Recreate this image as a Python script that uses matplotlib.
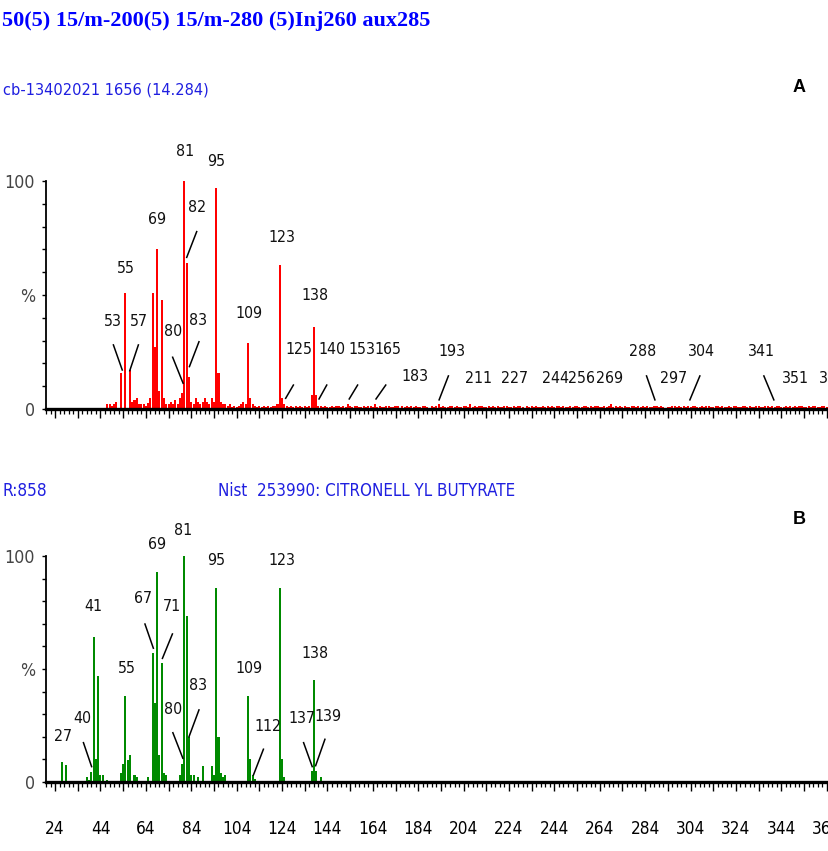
import os
import matplotlib
matplotlib.use("Agg")
import matplotlib.pyplot as plt
from matplotlib import font_manager
from matplotlib.ticker import MultipleLocator, FuncFormatter


def pick_file(prefs):
    files = [f.fname for f in font_manager.fontManager.ttflist]
    for p in prefs:
        for f in files:
            if p.lower() in os.path.basename(f).lower():
                return f
    return None


NARROW_FILE = pick_file(["LiberationSansNarrow-Regular", "NotoSans-ExtraCondensed.", "NotoSans-Condensed.",
                         "DejaVuSansCondensed.", "RobotoCondensed-Regular", "Roboto_Condensed-Regular",
                         "OpenSans-CondensedRegular", "OpenSans_Condensed-Regular", "NotoSans-SemiCondensed."])
SERIF_FILE = pick_file(["NotoSerif-ExtraCondensedBold.", "NotoSerif-CondensedBold.", "LiberationSerif-Bold."])


def narrow(size):
    if NARROW_FILE:
        return font_manager.FontProperties(fname=NARROW_FILE, size=size)
    return font_manager.FontProperties(family="DejaVu Sans", size=size)


def serif_bold(size):
    if SERIF_FILE:
        return font_manager.FontProperties(fname=SERIF_FILE, size=size)
    return font_manager.FontProperties(family="DejaVu Serif", weight="bold", size=size)


# ---- panel A: sample spectrum (red) ----
mz_a = [47, 48, 49, 50, 51, 53, 55, 57, 58, 59, 60, 61, 62, 63, 64, 65, 66, 67, 68, 69,
        70, 71, 72, 73, 74, 75, 76, 77, 78, 79, 80, 81, 82, 83, 84, 85, 86, 87, 88, 89,
        90, 91, 92, 93, 94, 95, 96, 97, 98, 99, 100, 101, 102, 103, 104, 105, 106, 107, 108, 109,
        110, 111, 112, 113, 114, 115, 116, 117, 118, 119, 120, 121, 122, 123, 124, 125, 126, 127, 128, 129,
        130, 131, 132, 133, 134, 135, 136, 137, 138, 139, 140]
int_a = [2, 2, 1.5, 2, 3, 16, 51, 17, 3, 4, 5, 2, 2, 2, 1.5, 2.5, 5, 51, 27, 70,
         8, 48, 5, 2, 2, 3, 2, 4, 2, 5, 7, 100, 64, 14, 3, 2, 5, 3, 2, 3,
         5, 3, 2, 5, 3, 97, 16, 3, 2, 2, 1.5, 2, 1, 1.5, 1, 1.5, 2, 3, 2, 29,
         5, 2, 1.5, 1, 1.5, 1, 1.5, 1, 1.5, 1, 1.5, 1.5, 2, 63, 5, 2, 1.5, 1, 1.5, 1,
         1.5, 1, 1.5, 1, 1.5, 1, 1.5, 6, 36, 6, 1.5]

# baseline noise of panel A, m/z 141..364
noise_a = [1.5, 1.0, 1.5, 1.0, 0.8, 1.5, 1.0, 1.5, 1.2, 1.0, 1.5, 1.0, 2.0, 1.5, 1.0, 1.2, 1.5, 1.0, 0.8, 1.5,
           1.0, 1.5, 1.2, 1.0, 2.0, 1.0, 1.5, 1.0, 0.8, 1.2, 1.5, 1.0, 1.0, 1.5, 1.2, 0.0, 1.5, 1.0, 1.5, 1.0,
           1.2, 1.0, 1.5, 0.8, 1.0, 1.5, 1.2, 1.0, 0.0, 1.5, 1.0, 1.2, 2.0, 1.0, 1.5, 1.0, 0.8, 1.5, 1.2, 1.0,
           1.5, 1.0, 0.8, 1.2, 1.5, 1.0, 2.0, 1.0, 1.5, 1.0, 1.2, 1.5, 0.8, 1.0, 1.5, 1.0, 1.2, 1.0, 1.5, 1.0,
           1.0, 1.5, 1.2, 0.8, 1.0, 1.5, 1.0, 1.2, 1.5, 1.0, 0.0, 1.5, 1.0, 1.2, 1.0, 1.5, 1.0, 0.8, 1.5, 1.0,
           1.2, 1.0, 1.5, 1.0, 1.5, 1.2, 1.0, 1.5, 1.0, 0.8, 1.5, 1.0, 1.2, 1.5, 1.0, 1.0, 1.5, 1.2, 1.0, 1.5,
           1.0, 1.5, 1.2, 1.0, 0.8, 1.5, 1.0, 1.2, 2.0, 1.0, 1.5, 1.0, 1.2, 0.8, 1.5, 1.0, 1.0, 1.5, 1.2, 1.0,
           1.5, 1.0, 1.2, 1.0, 1.5, 1.0, 0.8, 1.5, 1.2, 1.0, 1.5, 1.0, 0.0, 0.8, 1.0, 1.5, 1.2, 1.0, 1.5, 1.0,
           1.2, 1.0, 1.5, 1.0, 1.5, 1.2, 1.0, 0.8, 1.5, 1.0, 1.2, 1.5, 1.0, 1.0, 1.5, 1.2, 1.0, 1.5, 1.0, 0.8,
           1.5, 1.0, 1.2, 1.5, 1.0, 1.0, 1.5, 1.2, 1.0, 1.5, 1.0, 0.8, 1.2, 1.5, 1.0, 1.0, 1.5, 1.2, 1.0, 1.5,
           1.0, 1.2, 1.5, 1.0, 0.8, 1.5, 1.0, 1.2, 1.0, 1.5, 1.0, 1.2, 1.5, 1.0, 0.8, 1.5, 1.0, 1.2, 1.5, 1.0,
           1.0, 1.5, 1.2, 1.0]
noise_start = 141

# ---- panel B: NIST library spectrum (green) ----
mz_b = [27, 29, 38, 39, 40, 41, 42, 43, 44, 45, 47, 53, 54, 55, 56, 57, 59, 60, 65, 67,
        68, 69, 70, 71, 72, 73, 79, 80, 81, 82, 83, 84, 85, 87, 89, 93, 94, 95, 96, 97,
        98, 99, 109, 110, 111, 112, 123, 124, 125, 137, 138, 139, 141]
int_b = [9, 7.4, 2, 1, 4.4, 64, 10, 47, 3, 3, 1, 4, 8, 38, 9.6, 12, 3, 2, 2, 57,
         35, 93, 12, 52.5, 4, 3, 3, 8, 100, 73.5, 20, 3, 3, 2, 7, 7, 3, 86, 20, 4,
         2, 3, 38, 10, 3, 1.5, 86, 10, 2, 5, 45, 5, 2]

# peak labels: text, label x, label y, leader line (x0, y0, x1, y1) or None
labels_a = [
    ("81", 81.3, 112.9, None), ("95", 95.2, 108.5, None), ("69", 69.1, 82.9, None),
    ("82", 86.4, 88.2, (86.4, 77.8, 82.0, 66.5)), ("55", 55.3, 61.8, None),
    ("123", 123.9, 75.0, None), ("138", 138.5, 50.0, None), ("109", 109.6, 42.1, None),
    ("53", 49.4, 38.3, (49.7, 28.1, 53.6, 17.1)), ("57", 61.1, 38.3, (60.7, 28.1, 56.9, 16.8)),
    ("80", 76.1, 33.9, (75.8, 22.7, 80.4, 11.3)), ("83", 87.1, 39.0, (87.4, 29.5, 83.2, 18.6)),
    ("125", 131.5, 25.9, (129.0, 10.5, 125.6, 4.7)), ("140", 145.9, 25.9, (143.7, 10.5, 140.3, 4.4)),
    ("153", 159.4, 25.9, (157.3, 10.5, 153.6, 4.4)), ("165", 170.8, 25.9, (169.7, 10.5, 165.4, 4.4)),
    ("183", 182.6, 14.2, None), ("193", 198.8, 25.1, (197.3, 14.5, 193.2, 4.0)),
    ("211", 210.5, 13.5, None), ("227", 226.6, 13.5, None), ("244", 244.3, 13.5, None),
    ("256", 256.0, 13.5, None), ("269", 268.5, 13.5, None),
    ("288", 282.9, 25.1, (284.6, 14.5, 288.3, 4.0)), ("297", 296.7, 13.5, None),
    ("304", 308.9, 25.1, (308.1, 14.5, 303.7, 4.0)), ("341", 335.3, 25.1, (336.3, 14.5, 340.7, 4.0)),
    ("351", 350.0, 13.5, None), ("365", 366.5, 13.5, None),
]
labels_b = [
    ("27", 27.7, 20.0, None), ("40", 35.8, 28.2, (36.5, 17.4, 40.1, 6.8)),
    ("41", 40.9, 77.6, None), ("55", 55.6, 50.3, None),
    ("67", 62.9, 81.3, (63.6, 69.9, 67.3, 59.2)), ("71", 75.4, 77.6, (75.7, 65.5, 71.3, 54.7)),
    ("69", 69.1, 104.9, None), ("81", 80.5, 111.5, None), ("95", 95.2, 98.2, None),
    ("123", 123.9, 98.2, None), ("80", 76.1, 31.9, (75.9, 21.8, 80.3, 10.5)),
    ("83", 87.1, 42.9, (87.4, 31.9, 83.0, 20.0)), ("109", 109.6, 50.3, None),
    ("112", 118.0, 24.5, (115.8, 14.5, 111.4, 3.1)), ("138", 138.5, 56.9, None),
    ("137", 132.7, 28.2, (133.5, 17.4, 137.3, 6.8)), ("139", 144.4, 28.9, (142.9, 18.9, 138.8, 7.2)),
]

W, H = 829, 851
fig = plt.figure(figsize=(W / 100, H / 100), dpi=100)
renderer = fig.canvas.get_renderer()


def fit(t, target_px):
    # scale a text so that its width matches the reference
    w = t.get_window_extent(renderer).width
    t.set_fontsize(t.get_fontsize() * target_px / w)
    return t


probe = fig.text(0, 0, "244", fontproperties=narrow(10))
LAB = 10 * 27 / probe.get_window_extent(renderer).width
probe.remove()

axA = fig.add_axes([46 / W, 1 - 409 / H, 783 / W, 228 / H])
axB = fig.add_axes([46 / W, 1 - 782 / H, 783 / W, 226 / H])


def ylab(v, pos):
    return {0: "0", 50: "%", 100: "100"}.get(int(round(v)), "")


def xlab(v, pos):
    v = int(round(v))
    return str(v) if (v - 24) % 20 == 0 else ""


def style(ax, show_x):
    ax.set_xlim(20, 365)
    ax.set_ylim(0, 100)
    for s in ["top", "right"]:
        ax.spines[s].set_visible(False)
    ax.spines["bottom"].set_linewidth(2.4)
    ax.spines["left"].set_linewidth(1.3)
    ax.xaxis.set_major_locator(MultipleLocator(10, offset=4))
    ax.xaxis.set_minor_locator(MultipleLocator(2))
    ax.yaxis.set_major_locator(MultipleLocator(10))
    ax.yaxis.set_major_formatter(FuncFormatter(ylab))
    ax.xaxis.set_major_formatter(FuncFormatter(xlab))
    ax.tick_params(axis="x", which="major", length=6.5, width=1.0, pad=21, labelbottom=show_x)
    ax.tick_params(axis="x", which="minor", length=3.5, width=0.9)
    ax.tick_params(axis="y", length=3, width=1.0, pad=5, labelcolor="#444444")
    for lbl in ax.get_xticklabels():
        lbl.set_fontproperties(narrow(LAB * 1.08))
    for lbl in ax.get_yticklabels():
        lbl.set_fontproperties(narrow(LAB * 1.12))
    ax.patch.set_alpha(0)


def draw_labels(ax, labels):
    for txt, x, y, lead in labels:
        ax.text(x, y, txt, ha="center", va="center", fontproperties=narrow(LAB),
                color="#111111", clip_on=False)
        if lead is not None:
            ax.plot([lead[0], lead[2]], [lead[1], lead[3]], color="black", lw=1.1,
                    clip_on=False)


style(axA, False)
axA.bar(mz_a, int_a, width=0.9, color="#ff0000", linewidth=0)
axA.bar(range(noise_start, noise_start + len(noise_a)), noise_a, width=0.9, color="#ff0000", linewidth=0)
draw_labels(axA, labels_a)

style(axB, True)
axB.bar(mz_b, int_b, width=0.9, color="#008a00", linewidth=0)
draw_labels(axB, labels_b)

blue = "#0000ff"
blue2 = "#1f1fe0"
fit(fig.text(2 / W, 1 - 21 / H, "50(5) 15/m-200(5) 15/m-280 (5)Inj260 aux285",
             fontproperties=serif_bold(17), color=blue, va="center", ha="left"), 428)
fit(fig.text(3 / W, 1 - 90 / H, "cb-13402021 1656 (14.284)", fontproperties=narrow(14),
             color=blue2, va="center", ha="left"), 207)
fit(fig.text(3 / W, 1 - 491 / H, "R:858", fontproperties=narrow(14),
             color=blue2, va="center", ha="left"), 45)
fit(fig.text(218 / W, 1 - 491 / H, "Nist  253990: CITRONELL YL BUTYRATE", fontproperties=narrow(14),
             color=blue2, va="center", ha="left"), 299)
fig.text(799 / W, 1 - 88 / H, "A", fontsize=13, weight="bold", family="Liberation Sans",
         va="center", ha="center")
fig.text(799 / W, 1 - 520 / H, "B", fontsize=13, weight="bold", family="Liberation Sans",
         va="center", ha="center")

fig.savefig("out.png", dpi=100)
